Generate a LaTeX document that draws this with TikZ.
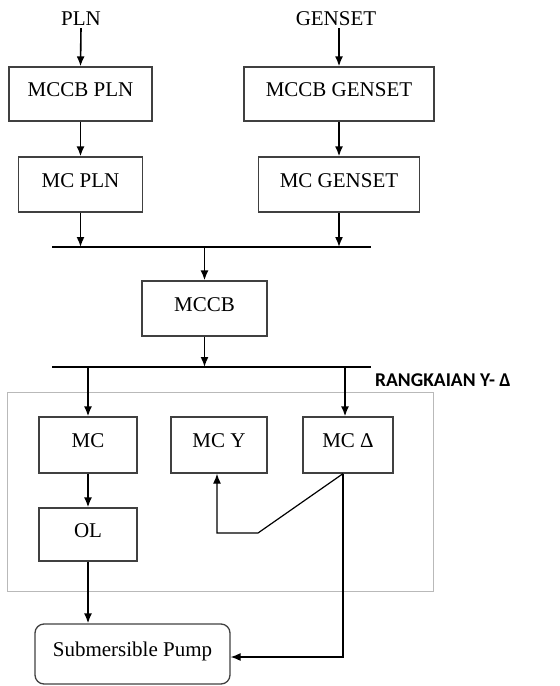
\documentclass[tikz,border=0pt]{standalone}
\usepackage{fontspec}
\setmainfont{Liberation Serif}
\newfontfamily\labelfont{Carlito}
\usetikzlibrary{arrows.meta}
\begin{document}
\begin{tikzpicture}[x=1pt,y=-1pt,
  box/.style={draw=black!75,line width=1.3pt,inner sep=0pt,
    font=\fontsize{21}{25}\selectfont,text height=14pt,text depth=9pt},
  tip/.style={-{Latex[length=10pt,width=8pt]}},
  arr/.style={line width=1.6pt,tip},
  bus/.style={line width=1.6pt},
  thinarr/.style={line width=1.2pt,tip}]
\useasboundingbox (0,0) rectangle (560,686);
% group frame
\draw[gray!55,line width=0.9pt] (7,392) rectangle (433,591);
% sources
\node[font=\fontsize{21}{25}\selectfont,inner sep=2pt] (PLN) at (81,19) {PLN};
\node[font=\fontsize{21}{25}\selectfont,inner sep=2pt] (GEN) at (336,19) {GENSET};
\node[box,minimum width=143pt,minimum height=54pt] (MCCBPLN) at (80.5,94) {MCCB PLN};
\node[box,minimum width=124pt,minimum height=55pt] (MCPLN) at (80.5,184.5) {MC PLN};
\node[box,minimum width=190pt,minimum height=54pt] (MCCBGEN) at (339,94) {MCCB GENSET};
\node[box,minimum width=161pt,minimum height=55pt] (MCGEN) at (339,184.5) {MC GENSET};
\node[box,minimum width=125pt,minimum height=55pt] (MCCB) at (204.5,308.5) {MCCB};
\node[box,minimum width=98pt,minimum height=56pt] (MC) at (88,445) {MC};
\node[box,minimum width=96pt,minimum height=56pt] (MCY) at (219,445) {MC Y};
\node[box,minimum width=90pt,minimum height=56pt] (MCD) at (348,445) {MC Δ};
\node[box,minimum width=98pt,minimum height=53pt] (OL) at (88,534.5) {OL};
\node[box,minimum width=195pt,minimum height=60pt,rounded corners=9pt] (Pump) at (132.5,654) {Submersible Pump};
\node[anchor=west,inner sep=0pt,font=\labelfont\bfseries\fontsize{19.5}{23}\selectfont] (RY) at (375,380) {RANGKAIAN Y- Δ};
% buses
\coordinate (b1L) at (52,247);
\coordinate (b1R) at (371,247);
\coordinate (b2L) at (52,367);
\coordinate (b2R) at (371,367);
\draw[bus] (b1L) -- (b1R);
\draw[bus] (b2L) -- (b2R);
% arrows
\draw[arr] (PLN.south) -- (MCCBPLN.north);
\draw[arr] (GEN.south -| MCCBGEN.north) -- (MCCBGEN.north);
\draw[arr] (MCCBPLN.south) -- (MCPLN.north);
\draw[arr] (MCCBGEN.south) -- (MCGEN.north);
\draw[arr] (MCPLN.south) -- (MCPLN.south |- b1L);
\draw[arr] (MCGEN.south) -- (MCGEN.south |- b1L);
\draw[arr] (MCCB.north |- b1L) -- (MCCB.north);
\draw[arr] (MCCB.south) -- (MCCB.south |- b2L);
\draw[arr] (MC.north |- b2L) -- (MC.north);
\draw[arr] ([xshift=-3pt]MCD.north |- b2L) -- ([xshift=-3pt]MCD.north);
\draw[arr] (MC.south) -- (OL.north);
\draw[arr] (OL.south) -- (Pump.north -| OL.south);
\coordinate (bend) at (258,533);
\draw[thinarr] ([xshift=-5pt]MCD.south) -- (bend) -- ([xshift=-2pt]MCY.south |- bend) -- ([xshift=-2pt]MCY.south);
\draw[thinarr] ([xshift=-5pt]MCD.south) |- ([yshift=-3pt]Pump.east);
\end{tikzpicture}
\end{document}
